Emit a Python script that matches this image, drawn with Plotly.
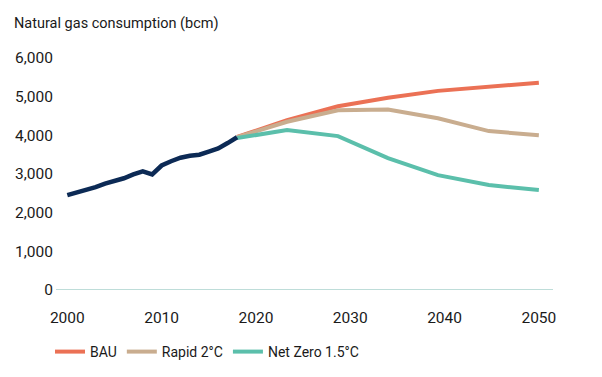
import plotly.graph_objects as go

FONT = "Roboto, Liberation Sans, sans-serif"

hist_years = list(range(2000, 2019))
hist_values = [2455, 2520, 2580, 2660, 2750, 2810, 2890, 2990, 3070, 2990,
               3220, 3330, 3420, 3470, 3500, 3580, 3660, 3800, 3950]

scen_years = [2018, 2023.3, 2028.7, 2034, 2039.3, 2044.7, 2050]
bau = [3960, 4390, 4750, 4970, 5150, 5250, 5360]
rapid = [3950, 4350, 4650, 4670, 4440, 4110, 4005]
netzero = [3930, 4135, 3980, 3410, 2970, 2715, 2585]

x_ticks = [2000, 2010, 2020, 2030, 2040, 2050]
y_ticks = [0, 1000, 2000, 3000, 4000, 5000, 6000]
y_tick_labels = ["0", "1,000", "2,000", "3,000", "4,000", "5,000", "6,000"]

C_BAU = "#eb7155"
C_RAPID = "#c9ad8f"
C_NZ = "#5bbfab"
C_HIST = "#0c2a55"

fig = go.Figure()
fig.add_trace(go.Scatter(x=scen_years, y=bau, mode="lines", name="BAU",
                         line=dict(color=C_BAU, width=4), legendrank=1))
fig.add_trace(go.Scatter(x=scen_years, y=rapid, mode="lines", name="Rapid 2°C",
                         line=dict(color=C_RAPID, width=4), legendrank=2))
fig.add_trace(go.Scatter(x=scen_years, y=netzero, mode="lines", name="Net Zero 1.5°C",
                         line=dict(color=C_NZ, width=4), legendrank=3))
fig.add_trace(go.Scatter(x=hist_years, y=hist_values, mode="lines", name="Historical",
                         line=dict(color=C_HIST, width=4.5), showlegend=False))

fig.update_layout(
    width=602, height=377,
    margin=dict(l=56, r=49, t=58, b=87, autoexpand=False),
    paper_bgcolor="white", plot_bgcolor="white",
    font=dict(family=FONT, size=15, color="#1a1a1a"),
    title=dict(text="Natural gas consumption (bcm)", x=14/602, xanchor="left",
               xref="container", y=1-23/377, yanchor="middle", yref="container",
               font=dict(family=FONT, size=14.5, color="#1a1a1a")),
    xaxis=dict(range=[1998.8, 2051.5], tickvals=x_ticks, ticktext=[str(v) for v in x_ticks],
               showgrid=False, zeroline=False, showline=False, ticks="",
               ticklabelstandoff=16, tickfont=dict(size=15.5)),
    yaxis=dict(range=[0, 6000], tickvals=y_ticks, ticktext=y_tick_labels,
               showgrid=False, zeroline=False, showline=False, ticks="",
               ticklabelstandoff=2, tickfont=dict(size=15.5)),
    legend=dict(orientation="h", x=50/602, xref="container", xanchor="left",
                y=1-352/377, yref="container", yanchor="middle",
                font=dict(family=FONT, size=14, color="#1a1a1a"),
                traceorder="normal", itemwidth=30),
    showlegend=True,
)
fig.add_shape(type="line", xref="paper", yref="y", x0=0, x1=1, y0=0, y1=0,
              line=dict(color="#7fbcb3", width=1.2), layer="below")

fig.write_html("out.html", config={"displayModeBar": False},
               post_script="document.body.style.margin='0';document.body.style.padding='0';")
